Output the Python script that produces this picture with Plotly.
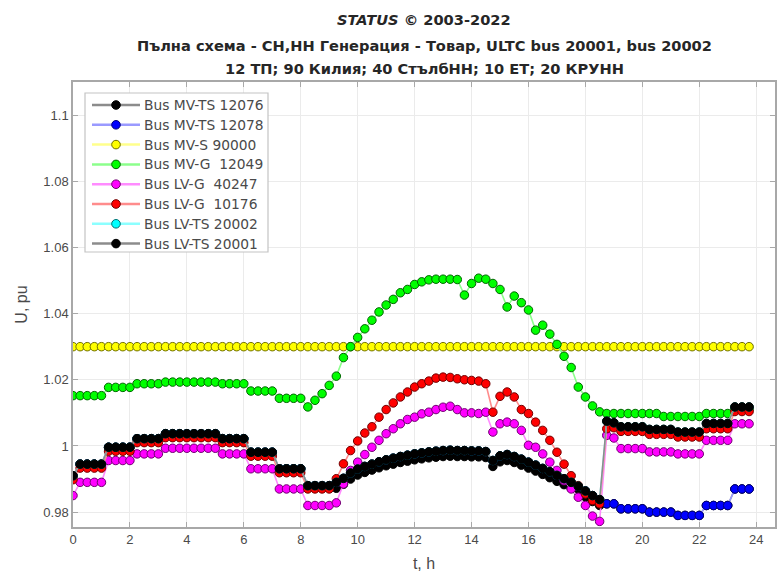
import plotly.graph_objects as go

# 15-minute samples over one day
t_hours = [i * 0.25 for i in range(96)]

# Bus voltages, p.u. (rows are hours: hh:00, hh:15, hh:30, hh:45)
mv_ts_12076 = [
    0.9910, 0.9945, 0.9945, 0.9945,
    0.9945, 0.9996, 0.9996, 0.9996,
    0.9996, 1.0022, 1.0022, 1.0022,
    1.0022, 1.0037, 1.0037, 1.0037,
    1.0037, 1.0037, 1.0037, 1.0037,
    1.0037, 1.0022, 1.0022, 1.0022,
    1.0022, 0.9981, 0.9981, 0.9981,
    0.9981, 0.9931, 0.9931, 0.9931,
    0.9931, 0.9880, 0.9880, 0.9880,
    0.9880, 0.9872, 0.9884, 0.9900,
    0.9912, 0.9920, 0.9927, 0.9934,
    0.9940, 0.9945, 0.9950, 0.9954,
    0.9958, 0.9961, 0.9964, 0.9966,
    0.9968, 0.9969, 0.9968, 0.9968,
    0.9967, 0.9967, 0.9965, 0.9938,
    0.9952, 0.9956, 0.9950, 0.9942,
    0.9933, 0.9924, 0.9914, 0.9904,
    0.9893, 0.9883, 0.9872, 0.9860,
    0.9846, 0.9832, 0.9820, 0.9825,
    0.9825, 0.9810, 0.9810, 0.9810,
    0.9810, 0.9800, 0.9800, 0.9800,
    0.9800, 0.9790, 0.9790, 0.9790,
    0.9790, 0.9820, 0.9820, 0.9820,
    0.9820, 0.9870, 0.9870, 0.9870,
]

lv_ts_20001 = [
    0.9910, 0.9945, 0.9945, 0.9945,
    0.9945, 0.9996, 0.9996, 0.9996,
    0.9996, 1.0022, 1.0022, 1.0022,
    1.0022, 1.0037, 1.0037, 1.0037,
    1.0037, 1.0037, 1.0037, 1.0037,
    1.0037, 1.0022, 1.0022, 1.0022,
    1.0022, 0.9981, 0.9981, 0.9981,
    0.9981, 0.9931, 0.9931, 0.9931,
    0.9931, 0.9880, 0.9880, 0.9880,
    0.9880, 0.9890, 0.9902, 0.9918,
    0.9930, 0.9938, 0.9945, 0.9952,
    0.9958, 0.9963, 0.9968, 0.9972,
    0.9976, 0.9979, 0.9982, 0.9984,
    0.9986, 0.9987, 0.9986, 0.9986,
    0.9985, 0.9985, 0.9983, 0.9956,
    0.9970, 0.9974, 0.9968, 0.9960,
    0.9951, 0.9942, 0.9932, 0.9922,
    0.9911, 0.9901, 0.9890, 0.9878,
    0.9864, 0.9850, 0.9838, 1.0075,
    1.0070, 1.0058, 1.0058, 1.0058,
    1.0058, 1.0050, 1.0050, 1.0050,
    1.0050, 1.0042, 1.0042, 1.0042,
    1.0042, 1.0068, 1.0068, 1.0068,
    1.0068, 1.0118, 1.0118, 1.0118,
]

# MV-TS 12078 follows the LV-TS bus until the tap change at 18:30, then MV-TS 12076
mv_ts_12078 = lv_ts_20001[:75] + mv_ts_12076[75:]
lv_ts_20002 = list(lv_ts_20001)

mv_s_90000 = [
    1.030, 1.030, 1.030, 1.030, 1.030, 1.030, 1.030, 1.030, 1.030, 1.030, 1.030, 1.030,
    1.030, 1.030, 1.030, 1.030, 1.030, 1.030, 1.030, 1.030, 1.030, 1.030, 1.030, 1.030,
    1.030, 1.030, 1.030, 1.030, 1.030, 1.030, 1.030, 1.030, 1.030, 1.030, 1.030, 1.030,
    1.030, 1.030, 1.030, 1.030, 1.030, 1.030, 1.030, 1.030, 1.030, 1.030, 1.030, 1.030,
    1.030, 1.030, 1.030, 1.030, 1.030, 1.030, 1.030, 1.030, 1.030, 1.030, 1.030, 1.030,
    1.030, 1.030, 1.030, 1.030, 1.030, 1.030, 1.030, 1.030, 1.030, 1.030, 1.030, 1.030,
    1.030, 1.030, 1.030, 1.030, 1.030, 1.030, 1.030, 1.030, 1.030, 1.030, 1.030, 1.030,
    1.030, 1.030, 1.030, 1.030, 1.030, 1.030, 1.030, 1.030, 1.030, 1.030, 1.030, 1.030,
]

mv_g_12049 = [
    1.0152, 1.0152, 1.0152, 1.0152,
    1.0152, 1.0177, 1.0177, 1.0177,
    1.0177, 1.0188, 1.0188, 1.0188,
    1.0188, 1.0193, 1.0193, 1.0193,
    1.0193, 1.0193, 1.0193, 1.0193,
    1.0193, 1.0188, 1.0188, 1.0188,
    1.0188, 1.0166, 1.0166, 1.0166,
    1.0166, 1.0144, 1.0144, 1.0144,
    1.0144, 1.0118, 1.0138, 1.0158,
    1.0183, 1.0211, 1.0267, 1.0300,
    1.0328, 1.0354, 1.0380, 1.0405,
    1.0426, 1.0443, 1.0463, 1.0473,
    1.0488, 1.0496, 1.0502, 1.0504,
    1.0504, 1.0504, 1.0503, 1.0456,
    1.0491, 1.0507, 1.0504, 1.0491,
    1.0473, 1.0420, 1.0453, 1.0433,
    1.0411, 1.0350, 1.0365, 1.0338,
    1.0307, 1.0271, 1.0237, 1.0178,
    1.0148, 1.0121, 1.0103, 1.0098,
    1.0098, 1.0098, 1.0098, 1.0098,
    1.0098, 1.0098, 1.0098, 1.0089,
    1.0089, 1.0089, 1.0089, 1.0089,
    1.0089, 1.0098, 1.0098, 1.0098,
    1.0098, 1.0110, 1.0110, 1.0110,
]

lv_g_40247 = [
    0.9850, 0.9890, 0.9890, 0.9890,
    0.9890, 0.9956, 0.9956, 0.9956,
    0.9956, 0.9976, 0.9976, 0.9976,
    0.9976, 0.9993, 0.9993, 0.9993,
    0.9993, 0.9993, 0.9993, 0.9993,
    0.9993, 0.9976, 0.9976, 0.9976,
    0.9976, 0.9931, 0.9931, 0.9931,
    0.9931, 0.9870, 0.9870, 0.9870,
    0.9870, 0.9820, 0.9820, 0.9820,
    0.9820, 0.9828, 0.9885, 0.9926,
    0.9951, 0.9974, 0.9996, 1.0017,
    1.0037, 1.0052, 1.0067, 1.0080,
    1.0087, 1.0097, 1.0102, 1.0110,
    1.0117, 1.0120, 1.0110, 1.0100,
    1.0100, 1.0098, 1.0102, 1.0042,
    1.0067, 1.0072, 1.0067, 1.0047,
    1.0002, 0.9996, 0.9976, 0.9951,
    0.9926, 0.9895, 0.9870, 0.9845,
    0.9820, 0.9788, 0.9772, 1.0032,
    1.0024, 0.9992, 0.9992, 0.9992,
    0.9992, 0.9982, 0.9982, 0.9982,
    0.9982, 0.9976, 0.9976, 0.9976,
    0.9976, 1.0017, 1.0017, 1.0017,
    1.0017, 1.0067, 1.0067, 1.0067,
]

lv_g_10176 = [
    0.9898, 0.9933, 0.9933, 0.9933,
    0.9933, 0.9984, 0.9984, 0.9984,
    0.9984, 1.0010, 1.0010, 1.0010,
    1.0010, 1.0025, 1.0025, 1.0025,
    1.0025, 1.0025, 1.0025, 1.0025,
    1.0025, 1.0010, 1.0010, 1.0010,
    1.0010, 0.9969, 0.9969, 0.9969,
    0.9969, 0.9919, 0.9919, 0.9919,
    0.9919, 0.9870, 0.9870, 0.9870,
    0.9870, 0.9901, 0.9946, 0.9986,
    1.0015, 1.0039, 1.0058, 1.0087,
    1.0110, 1.0130, 1.0148, 1.0163,
    1.0178, 1.0188, 1.0196, 1.0205,
    1.0208, 1.0207, 1.0203, 1.0200,
    1.0198, 1.0196, 1.0188, 1.0102,
    1.0150, 1.0163, 1.0148, 1.0110,
    1.0098, 1.0072, 1.0047, 1.0017,
    0.9981, 0.9945, 0.9910, 0.9880,
    0.9855, 0.9835, 0.9825, 1.0052,
    1.0055, 1.0044, 1.0044, 1.0044,
    1.0044, 1.0035, 1.0035, 1.0035,
    1.0035, 1.0027, 1.0027, 1.0027,
    1.0027, 1.0052, 1.0052, 1.0052,
    1.0052, 1.0104, 1.0104, 1.0104,
]

series_names = [
    "Bus MV-TS 12076", "Bus MV-TS 12078", "Bus MV-S 90000", "Bus MV-G  12049",
    "Bus LV-G  40247", "Bus LV-G  10176", "Bus LV-TS 20002", "Bus LV-TS 20001",
]
series_values = [
    mv_ts_12076, mv_ts_12078, mv_s_90000, mv_g_12049,
    lv_g_40247, lv_g_10176, lv_ts_20002, lv_ts_20001,
]
marker_fill = ["#000000", "#0000ff", "#ffff00", "#00ff00", "#ff00ff", "#ff0000", "#00ffff", "#000000"]
marker_edge = ["#000000", "#00007a", "#6e6e00", "#006400", "#700070", "#700000", "#007070", "#000000"]
line_color = ["#8c8c8c", "#9a9aff", "#ffff8c", "#8cff8c", "#ff8cff", "#ff8c8c", "#8cffff", "#8c8c8c"]

y_ticks = [0.98, 1.0, 1.02, 1.04, 1.06, 1.08, 1.1]
y_tick_text = ["0.98", "1", "1.02", "1.04", "1.06", "1.08", "1.1"]
x_ticks = [0, 2, 4, 6, 8, 10, 12, 14, 16, 18, 20, 22, 24]

title_lines = [
    "<b><i>STATUS</i> © 2003-2022</b>",
    "<b>Пълна схема - СН,НН Генерация - Товар, ULTC bus 20001, bus 20002</b>",
    "<b>12 ТП; 90 Килия; 40 СтълбНН; 10 ЕТ; 20 КРУНН</b>",
]

FONT = "Liberation Sans, Arial, sans-serif"
WIDE_FONT = "DejaVu Sans, Verdana, sans-serif"
AXIS_GREY = "#a8a8a8"

# figure / plot-area geometry in pixels
W, H = 777, 572
PLOT_L, PLOT_R, PLOT_T, PLOT_B = 73, 775, 82, 527


def paper_x(px):
    return (px - PLOT_L) / (PLOT_R - PLOT_L)


def paper_y(py):
    return 1 - (py - PLOT_T) / (PLOT_B - PLOT_T)


fig = go.Figure()
for name, vals, fill, edge, lc in zip(series_names, series_values, marker_fill, marker_edge, line_color):
    fig.add_trace(go.Scatter(
        x=t_hours, y=vals, mode="lines+markers", name=name, showlegend=False,
        line=dict(color=lc, width=1.6),
        marker=dict(size=8.5, color=fill, line=dict(color=edge, width=1)),
    ))

# title block
for text, ypix in zip(title_lines, [20, 46, 68]):
    fig.add_annotation(
        text=text, xref="paper", yref="paper", x=0.5, xanchor="center",
        y=paper_y(ypix), yanchor="middle", showarrow=False,
        font=dict(family=WIDE_FONT, size=14.6, color="#262626"),
    )

# legend box drawn in the upper-left corner of the axes
LEG_L, LEG_R, LEG_T, LEG_B = 85, 268, 93, 252
ROW0, ROW_STEP = 105, 19.8
SAMPLE_L, SAMPLE_R, SAMPLE_MID, TEXT_X = 92, 140, 116, 142
MARK_R = 4.3

fig.add_shape(
    type="rect", xref="paper", yref="paper",
    x0=paper_x(LEG_L), x1=paper_x(LEG_R), y0=paper_y(LEG_B), y1=paper_y(LEG_T),
    fillcolor="white", line=dict(color="#c4c4c4", width=1.2), layer="above",
)
for i, (name, fill, edge, lc) in enumerate(zip(series_names, marker_fill, marker_edge, line_color)):
    ry = ROW0 + i * ROW_STEP
    fig.add_shape(
        type="line", xref="paper", yref="paper",
        x0=paper_x(SAMPLE_L), x1=paper_x(SAMPLE_R), y0=paper_y(ry), y1=paper_y(ry),
        line=dict(color=lc, width=2.5), layer="above",
    )
    fig.add_shape(
        type="circle", xref="paper", yref="paper",
        x0=paper_x(SAMPLE_MID - MARK_R), x1=paper_x(SAMPLE_MID + MARK_R),
        y0=paper_y(ry + MARK_R), y1=paper_y(ry - MARK_R),
        fillcolor=fill, line=dict(color=edge, width=1), layer="above",
    )
    fig.add_annotation(
        text=name, xref="paper", yref="paper", x=paper_x(TEXT_X), xanchor="left",
        y=paper_y(ry), yanchor="middle", showarrow=False,
        font=dict(family=WIDE_FONT, size=13.8, color="#4a4a4a"),
    )

fig.update_layout(
    width=W, height=H,
    margin=dict(l=PLOT_L, r=W - PLOT_R, t=PLOT_T, b=H - PLOT_B),
    paper_bgcolor="white", plot_bgcolor="white",
    font=dict(family=FONT, size=13, color="#4a4a4a"),
    showlegend=False,
)

fig.update_xaxes(
    range=[0, 24.66], tickvals=x_ticks, ticks="inside", ticklen=5,
    tickcolor=AXIS_GREY, showline=True, linecolor=AXIS_GREY, linewidth=1.5,
    mirror="ticks", showgrid=True, gridcolor="#ebebeb", gridwidth=1,
    zeroline=False, title=dict(text="t, h", standoff=14), automargin=False,
    tickfont=dict(size=13),
)
fig.update_yaxes(
    range=[0.9755, 1.11], tickvals=y_ticks, ticktext=y_tick_text, ticks="inside",
    ticklen=5, tickcolor=AXIS_GREY, showline=True, linecolor=AXIS_GREY,
    linewidth=1.5, mirror="ticks", showgrid=True, gridcolor="#ebebeb",
    gridwidth=1, zeroline=False, title=dict(text="U, pu", standoff=12),
    automargin=False, tickfont=dict(size=13),
)

fig.write_html("out.html")
